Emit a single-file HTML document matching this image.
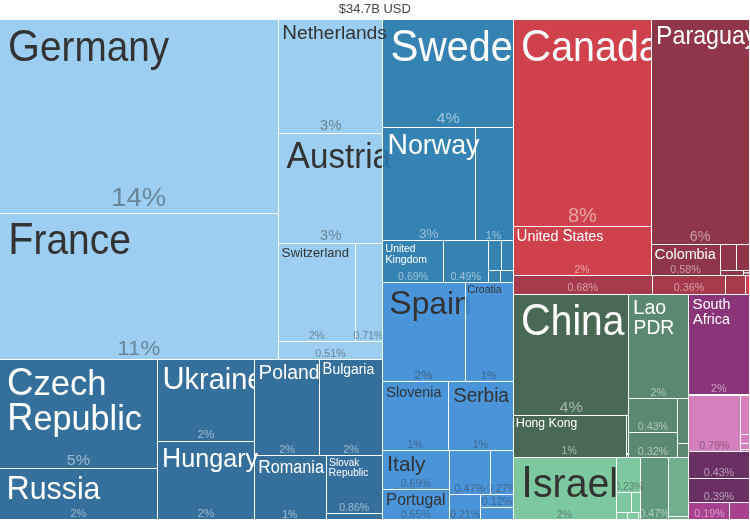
<!DOCTYPE html>
<html><head><meta charset="utf-8"><title>Treemap</title>
<style>
html,body{margin:0;padding:0;background:#fff;}
body{width:750px;height:520px;overflow:hidden;font-family:"Liberation Sans",sans-serif;}
svg{display:block;will-change:transform;}
text{font-family:"Liberation Sans",sans-serif;}
</style></head><body>
<svg width="750" height="520" viewBox="0 0 750 520">
<g opacity="0.999"><text transform="translate(338.87,12.7) scale(1.0366,1)" font-size="12.5" fill="#444444">$34.7B USD</text></g>
<defs><clipPath id="cp"><rect x="0" y="20" width="750" height="500"/></clipPath><clipPath id="c1"><rect x="278.5" y="133.5" width="103.5" height="110"/></clipPath><clipPath id="c2"><rect x="383" y="133.5" width="17" height="110"/></clipPath><clipPath id="c3"><rect x="157.5" y="359.5" width="96.5" height="82"/></clipPath><clipPath id="c4"><rect x="382.5" y="20" width="130.5" height="107.5"/></clipPath><clipPath id="c5"><rect x="382.5" y="282.5" width="82.5" height="99"/></clipPath><clipPath id="c6"><rect x="466" y="282.5" width="14" height="99"/></clipPath><clipPath id="c7"><rect x="513.5" y="20" width="137.5" height="206.5"/></clipPath><clipPath id="c8"><rect x="651.5" y="20" width="97.5" height="224.5"/></clipPath><clipPath id="c9"><rect x="270" y="243.5" width="112.5" height="98"/></clipPath><clipPath id="c10"><rect x="490.5" y="450" width="22.5" height="45"/></clipPath><clipPath id="c11"><rect x="480" y="450" width="10" height="45"/></clipPath><clipPath id="c12"><rect x="617" y="457" width="83" height="63"/></clipPath><clipPath id="c13"><rect x="640.5" y="457" width="27.8" height="63"/></clipPath></defs>
<g clip-path="url(#cp)">
<rect x="-1" y="19" width="279.5" height="194.5" fill="#9bcef0" stroke="#ffffff" stroke-width="1"/>
<rect x="-1" y="213.5" width="279.5" height="146" fill="#9bcef0" stroke="#ffffff" stroke-width="1"/>
<rect x="278.5" y="19" width="104" height="114.5" fill="#9bcef0" stroke="#ffffff" stroke-width="1"/>
<rect x="278.5" y="133.5" width="104" height="110" fill="#9bcef0" stroke="#ffffff" stroke-width="1"/>
<rect x="278.5" y="243.5" width="77" height="98" fill="#9bcef0" stroke="#ffffff" stroke-width="1"/>
<rect x="355.5" y="243.5" width="27" height="98" fill="#9bcef0" stroke="#ffffff" stroke-width="1"/>
<rect x="278.5" y="341.5" width="104" height="18" fill="#9bcef0" stroke="#ffffff" stroke-width="1"/>
<rect x="-1" y="359.5" width="158.5" height="109" fill="#35709c" stroke="#ffffff" stroke-width="1"/>
<rect x="-1" y="468.5" width="158.5" height="51" fill="#35709c" stroke="#ffffff" stroke-width="1"/>
<rect x="157.5" y="359.5" width="97" height="82" fill="#35709c" stroke="#ffffff" stroke-width="1"/>
<rect x="157.5" y="441.5" width="97" height="78" fill="#35709c" stroke="#ffffff" stroke-width="1"/>
<rect x="254.5" y="359.5" width="65" height="96" fill="#35709c" stroke="#ffffff" stroke-width="1"/>
<rect x="319.5" y="359.5" width="63" height="96" fill="#35709c" stroke="#ffffff" stroke-width="1"/>
<rect x="254.5" y="455.5" width="72" height="64" fill="#35709c" stroke="#ffffff" stroke-width="1"/>
<rect x="326.5" y="455.5" width="56" height="58" fill="#35709c" stroke="#ffffff" stroke-width="1"/>
<rect x="326.5" y="513.5" width="56" height="6" fill="#35709c" stroke="#ffffff" stroke-width="1"/>
<rect x="382.5" y="19" width="131" height="108.5" fill="#3583b2" stroke="#ffffff" stroke-width="1"/>
<rect x="382.5" y="127.5" width="93" height="113" fill="#3583b2" stroke="#ffffff" stroke-width="1"/>
<rect x="475.5" y="127.5" width="38" height="113" fill="#3583b2" stroke="#ffffff" stroke-width="1"/>
<rect x="382.5" y="240.5" width="61" height="42" fill="#3583b2" stroke="#ffffff" stroke-width="1"/>
<rect x="443.5" y="240.5" width="45" height="42" fill="#3583b2" stroke="#ffffff" stroke-width="1"/>
<rect x="488.5" y="240.5" width="13" height="30" fill="#3583b2" stroke="#ffffff" stroke-width="1"/>
<rect x="501.5" y="240.5" width="12" height="30" fill="#3583b2" stroke="#ffffff" stroke-width="1"/>
<rect x="488.5" y="270.5" width="12" height="12" fill="#3583b2" stroke="#ffffff" stroke-width="1"/>
<rect x="500.5" y="270.5" width="13" height="12" fill="#3583b2" stroke="#ffffff" stroke-width="1"/>
<rect x="382.5" y="282.5" width="83" height="99" fill="#4a95d9" stroke="#ffffff" stroke-width="1"/>
<rect x="465.5" y="282.5" width="48" height="99" fill="#4a95d9" stroke="#ffffff" stroke-width="1"/>
<rect x="382.5" y="381.5" width="66" height="69" fill="#4a95d9" stroke="#ffffff" stroke-width="1"/>
<rect x="448.5" y="381.5" width="65" height="69" fill="#4a95d9" stroke="#ffffff" stroke-width="1"/>
<rect x="382.5" y="450.5" width="67" height="39" fill="#4a95d9" stroke="#ffffff" stroke-width="1"/>
<rect x="382.5" y="489.5" width="67" height="30" fill="#4a95d9" stroke="#ffffff" stroke-width="1"/>
<rect x="449.5" y="450.5" width="41" height="44" fill="#4a95d9" stroke="#ffffff" stroke-width="1"/>
<rect x="490.5" y="450.5" width="23" height="44" fill="#4a95d9" stroke="#ffffff" stroke-width="1"/>
<rect x="449.5" y="494.5" width="31" height="25" fill="#4a95d9" stroke="#ffffff" stroke-width="1"/>
<rect x="480.5" y="494.5" width="33" height="13" fill="#4a95d9" stroke="#ffffff" stroke-width="1"/>
<rect x="480.5" y="507.5" width="33" height="12" fill="#4a95d9" stroke="#ffffff" stroke-width="1"/>
<rect x="513.5" y="19" width="138" height="207.5" fill="#cf424b" stroke="#ffffff" stroke-width="1"/>
<rect x="513.5" y="226.5" width="138" height="49" fill="#cf424b" stroke="#ffffff" stroke-width="1"/>
<rect x="513.5" y="275.5" width="139" height="19" fill="#a73a4a" stroke="#ffffff" stroke-width="1"/>
<rect x="652.5" y="275.5" width="73" height="19" fill="#a73a4a" stroke="#ffffff" stroke-width="1"/>
<rect x="725.5" y="275.5" width="20" height="19" fill="#a73a4a" stroke="#ffffff" stroke-width="1"/>
<rect x="745.5" y="275.5" width="4" height="19" fill="#cf424b" stroke="#ffffff" stroke-width="1"/>
<rect x="651.5" y="19" width="98" height="225.5" fill="#8f3648" stroke="#ffffff" stroke-width="1"/>
<rect x="651.5" y="244.5" width="69" height="31" fill="#8f3648" stroke="#ffffff" stroke-width="1"/>
<rect x="720.5" y="244.5" width="16" height="26" fill="#8f3648" stroke="#ffffff" stroke-width="1"/>
<rect x="736.5" y="244.5" width="13" height="26" fill="#8f3648" stroke="#ffffff" stroke-width="1"/>
<rect x="720.5" y="270.5" width="23" height="5" fill="#8f3648" stroke="#ffffff" stroke-width="1"/>
<rect x="743.5" y="270.5" width="6" height="2.5" fill="#8f3648" stroke="#ffffff" stroke-width="1"/>
<rect x="743.5" y="273" width="6" height="2.5" fill="#8f3648" stroke="#ffffff" stroke-width="1"/>
<rect x="513.5" y="294.5" width="115" height="121" fill="#4a6955" stroke="#ffffff" stroke-width="1"/>
<rect x="513.5" y="415.5" width="113" height="42" fill="#4a6955" stroke="#ffffff" stroke-width="1"/>
<rect x="626.5" y="415.5" width="2" height="38.5" fill="#4a6955" stroke="#ffffff" stroke-width="1"/>
<rect x="626.5" y="454" width="2" height="3.5" fill="#4a6955" stroke="#ffffff" stroke-width="1"/>
<rect x="628.5" y="294.5" width="60" height="104" fill="#5a8870" stroke="#ffffff" stroke-width="1"/>
<rect x="628.5" y="398.5" width="49" height="34" fill="#5a8870" stroke="#ffffff" stroke-width="1"/>
<rect x="628.5" y="432.5" width="49" height="25" fill="#5a8870" stroke="#ffffff" stroke-width="1"/>
<rect x="677.5" y="398.5" width="11" height="45" fill="#5a8870" stroke="#ffffff" stroke-width="1"/>
<rect x="677.5" y="443.5" width="11" height="14" fill="#5a8870" stroke="#ffffff" stroke-width="1"/>
<rect x="513.5" y="457.5" width="103" height="62" fill="#7ec8a0" stroke="#ffffff" stroke-width="1"/>
<rect x="616.5" y="457.5" width="24" height="35" fill="#7ec8a0" stroke="#ffffff" stroke-width="1"/>
<rect x="616.5" y="492.5" width="15" height="20" fill="#7ec8a0" stroke="#ffffff" stroke-width="1"/>
<rect x="631.5" y="492.5" width="9" height="20" fill="#7ec8a0" stroke="#ffffff" stroke-width="1"/>
<rect x="616.5" y="512.5" width="11" height="7" fill="#7ec8a0" stroke="#ffffff" stroke-width="1"/>
<rect x="627.5" y="512.5" width="11" height="7" fill="#7ec8a0" stroke="#ffffff" stroke-width="1"/>
<rect x="638.5" y="512.5" width="2" height="7" fill="#7ec8a0" stroke="#ffffff" stroke-width="1"/>
<rect x="640.5" y="457.5" width="28" height="62" fill="#609a7a" stroke="#ffffff" stroke-width="1"/>
<rect x="668.5" y="457.5" width="20" height="59" fill="#70ae8c" stroke="#ffffff" stroke-width="1"/>
<rect x="668.5" y="516.5" width="20" height="3" fill="#70ae8c" stroke="#ffffff" stroke-width="1"/>
<rect x="688.5" y="294.5" width="61" height="100" fill="#8a3579" stroke="#ffffff" stroke-width="1"/>
<rect x="688.5" y="395.5" width="52" height="56" fill="#d580bc" stroke="#ffffff" stroke-width="1"/>
<rect x="740.5" y="395.5" width="9" height="39" fill="#d580bc" stroke="#ffffff" stroke-width="1"/>
<rect x="740.5" y="434.5" width="9" height="9" fill="#d580bc" stroke="#ffffff" stroke-width="1"/>
<rect x="740.5" y="443.5" width="9" height="6" fill="#d580bc" stroke="#ffffff" stroke-width="1"/>
<rect x="740.5" y="449.5" width="9" height="2" fill="#d580bc" stroke="#ffffff" stroke-width="1"/>
<rect x="688.5" y="451.5" width="61" height="27" fill="#6a3064" stroke="#ffffff" stroke-width="1"/>
<rect x="688.5" y="478.5" width="61" height="24" fill="#6a3064" stroke="#ffffff" stroke-width="1"/>
<rect x="688.5" y="502.5" width="41" height="17" fill="#a8408f" stroke="#ffffff" stroke-width="1"/>
<rect x="729.5" y="502.5" width="20" height="17" fill="#a8408f" stroke="#ffffff" stroke-width="1"/>
<text transform="translate(7.96,60.60) scale(0.9234,1)" font-size="42" fill="#333333"><tspan font-size="44.52">G</tspan>ermany</text>
<text transform="translate(8.19,253.90) scale(0.9170,1)" font-size="42.5" fill="#333333"><tspan font-size="45.05">F</tspan>rance</text>
<text transform="translate(282.21,38.60) scale(1.0155,1)" font-size="19" fill="#333333"><tspan font-size="20.14">N</tspan>etherlands</text>
<g clip-path="url(#c1)"><text transform="translate(286.62,167.60) scale(0.9618,1)" font-size="34.4" fill="#333333"><tspan font-size="36.46">A</tspan>ustria</text></g>
<g clip-path="url(#c2)"><text transform="translate(286.62,167.60) scale(0.9618,1)" font-size="34.4" fill="#1f5f8f" fill-opacity="0.55"><tspan font-size="36.46">A</tspan>ustria</text></g>
<text transform="translate(281.59,256.60) scale(1.0245,1)" font-size="12.6" fill="#333333"><tspan font-size="13.36">S</tspan>witzerland</text>
<text transform="translate(6.98,394.80) scale(0.9667,1)" font-size="35.8" fill="#ffffff"><tspan font-size="37.95">C</tspan>zech</text>
<text transform="translate(7.20,429.80) scale(0.9564,1)" font-size="35.8" fill="#ffffff"><tspan font-size="37.95">R</tspan>epublic</text>
<text transform="translate(6.44,499.40) scale(0.9885,1)" font-size="30.7" fill="#ffffff"><tspan font-size="32.54">R</tspan>ussia</text>
<g clip-path="url(#c3)"><text transform="translate(162.41,389.10) scale(0.9523,1)" font-size="30.4" fill="#ffffff"><tspan font-size="32.22">U</tspan>kraine</text></g>
<text transform="translate(162.10,467.00) scale(0.9655,1)" font-size="26" fill="#ffffff"><tspan font-size="27.56">H</tspan>ungary</text>
<text transform="translate(258.61,378.90) scale(1.0026,1)" font-size="19.3" fill="#ffffff"><tspan font-size="20.46">P</tspan>oland</text>
<text transform="translate(322.58,374.00) scale(0.9153,1)" font-size="15.2" fill="#ffffff"><tspan font-size="16.11">B</tspan>ulgaria</text>
<text transform="translate(258.17,472.80) scale(0.9254,1)" font-size="17.6" fill="#ffffff"><tspan font-size="18.66">R</tspan>omania</text>
<text transform="translate(329.03,465.60) scale(0.9444,1)" font-size="10.5" fill="#ffffff"><tspan font-size="11.13">S</tspan>lovak</text>
<text transform="translate(328.62,475.80) scale(0.9599,1)" font-size="10.5" fill="#ffffff"><tspan font-size="11.13">R</tspan>epublic</text>
<g clip-path="url(#c4)"><text transform="translate(390.43,61.00) scale(0.9397,1)" font-size="42" fill="#ffffff"><tspan font-size="44.52">S</tspan>weden</text></g>
<text transform="translate(387.45,154.20) scale(0.9783,1)" font-size="27.4" fill="#ffffff"><tspan font-size="29.04">N</tspan>orway</text>
<text transform="translate(385.24,252.00) scale(0.9781,1)" font-size="10.6" fill="#ffffff"><tspan font-size="11.24">U</tspan>nited</text>
<text transform="translate(385.18,262.60) scale(0.9914,1)" font-size="10.6" fill="#ffffff"><tspan font-size="11.24">K</tspan>ingdom</text>
<g clip-path="url(#c5)"><text transform="translate(389.19,314.40) scale(1.0427,1)" font-size="30.5" fill="#333333"><tspan font-size="32.33">S</tspan>pain</text></g>
<g clip-path="url(#c6)"><text transform="translate(389.19,314.40) scale(1.0427,1)" font-size="30.5" fill="#2f78c0" fill-opacity="0.5"><tspan font-size="32.33">S</tspan>pain</text></g>
<text transform="translate(467.24,293.40) scale(0.9614,1)" font-size="11" fill="#333333"><tspan font-size="11.66">C</tspan>roatia</text>
<text transform="translate(386.02,397.00) scale(0.9850,1)" font-size="14.5" fill="#333333"><tspan font-size="15.37">S</tspan>lovenia</text>
<text transform="translate(453.20,401.60) scale(0.9759,1)" font-size="19.5" fill="#333333"><tspan font-size="20.67">S</tspan>erbia</text>
<text transform="translate(386.97,470.90) scale(1.0224,1)" font-size="20.4" fill="#333333"><tspan font-size="21.62">I</tspan>taly</text>
<text transform="translate(386.12,505.20) scale(1.0104,1)" font-size="15.6" fill="#333333"><tspan font-size="16.54">P</tspan>ortugal</text>
<g clip-path="url(#c7)"><text transform="translate(521.03,61.00) scale(0.9383,1)" font-size="42" fill="#ffffff"><tspan font-size="44.52">C</tspan>anada</text></g>
<text transform="translate(516.52,241.40) scale(0.9720,1)" font-size="14.7" fill="#ffffff"><tspan font-size="15.58">U</tspan>nited <tspan font-size="15.58">S</tspan>tates</text>
<g clip-path="url(#c8)"><text transform="translate(656.07,44.00) scale(0.9296,1)" font-size="25" fill="#ffffff"><tspan font-size="26.50">P</tspan>araguay</text></g>
<text transform="translate(654.44,259.40) scale(1.0280,1)" font-size="14" fill="#ffffff"><tspan font-size="14.84">C</tspan>olombia</text>
<text transform="translate(521.06,335.30) scale(0.9259,1)" font-size="42" fill="#ffffff"><tspan font-size="44.52">C</tspan>hina</text>
<text transform="translate(515.64,427.00) scale(1.0076,1)" font-size="12" fill="#ffffff"><tspan font-size="12.72">H</tspan>ong <tspan font-size="12.72">K</tspan>ong</text>
<text transform="translate(632.89,313.70) scale(1.0149,1)" font-size="19.3" fill="#ffffff"><tspan font-size="20.46">L</tspan>ao</text>
<text transform="translate(633.50,333.90) scale(0.9450,1)" font-size="19.3" fill="#ffffff"><tspan font-size="20.46">PDR</tspan></text>
<text transform="translate(521.37,497.40) scale(0.9576,1)" font-size="41" fill="#333333"><tspan font-size="43.46">I</tspan>srael</text>
<text transform="translate(692.52,309.10) scale(1.0226,1)" font-size="14" fill="#ffffff"><tspan font-size="14.84">S</tspan>outh</text>
<text transform="translate(692.66,324.10) scale(1.0239,1)" font-size="14" fill="#ffffff"><tspan font-size="14.84">A</tspan>frica</text>
<text transform="translate(111.14,206.20) scale(1.0568,1)" font-size="26" fill="#333333" fill-opacity="0.47">14%</text>
<text transform="translate(117.32,354.70) scale(1.1456,1)" font-size="19.5" fill="#333333" fill-opacity="0.47">11%</text>
<text transform="translate(319.84,130.00) scale(1.0141,1)" font-size="14.8" fill="#333333" fill-opacity="0.47">3%</text>
<text transform="translate(319.84,240.00) scale(1.0141,1)" font-size="14.8" fill="#333333" fill-opacity="0.47">3%</text>
<text transform="translate(308.76,338.60) scale(1.0565,1)" font-size="10.3" fill="#333333" fill-opacity="0.47">2%</text>
<g clip-path="url(#c9)"><text transform="translate(353.58,338.60) scale(1.0292,1)" font-size="10.2" fill="#333333" fill-opacity="0.47">0.71%</text></g>
<text transform="translate(315.27,356.50) scale(1.0505,1)" font-size="10.2" fill="#333333" fill-opacity="0.47">0.51%</text>
<text transform="translate(66.76,464.60) scale(1.0428,1)" font-size="15.4" fill="#ffffff" fill-opacity="0.5">5%</text>
<text transform="translate(70.45,517.40) scale(1.0708,1)" font-size="10.3" fill="#ffffff" fill-opacity="0.5">2%</text>
<text transform="translate(197.41,438.40) scale(1.0793,1)" font-size="10.9" fill="#ffffff" fill-opacity="0.5">2%</text>
<text transform="translate(197.41,517.40) scale(1.0793,1)" font-size="10.9" fill="#ffffff" fill-opacity="0.5">2%</text>
<text transform="translate(279.26,453.00) scale(1.0565,1)" font-size="10.3" fill="#ffffff" fill-opacity="0.5">2%</text>
<text transform="translate(343.26,453.00) scale(1.0565,1)" font-size="10.3" fill="#ffffff" fill-opacity="0.5">2%</text>
<text transform="translate(282.32,517.80) scale(1.0036,1)" font-size="10.3" fill="#ffffff" fill-opacity="0.5">1%</text>
<text transform="translate(339.23,510.70) scale(1.0398,1)" font-size="10.2" fill="#ffffff" fill-opacity="0.5">0.86%</text>
<text transform="translate(436.44,122.80) scale(1.0416,1)" font-size="15.5" fill="#ffffff" fill-opacity="0.5">4%</text>
<text transform="translate(418.89,238.20) scale(1.1018,1)" font-size="12.3" fill="#ffffff" fill-opacity="0.5">3%</text>
<text transform="translate(485.79,238.60) scale(1.0472,1)" font-size="10.3" fill="#ffffff" fill-opacity="0.5">1%</text>
<text transform="translate(397.97,280.20) scale(1.0505,1)" font-size="10.2" fill="#ffffff" fill-opacity="0.5">0.69%</text>
<text transform="translate(450.57,280.20) scale(1.0505,1)" font-size="10.2" fill="#ffffff" fill-opacity="0.5">0.49%</text>
<text transform="translate(414.26,379.00) scale(1.1125,1)" font-size="11.5" fill="#333333" fill-opacity="0.47">2%</text>
<text transform="translate(480.99,379.00) scale(1.0472,1)" font-size="10.3" fill="#333333" fill-opacity="0.47">1%</text>
<text transform="translate(407.61,447.60) scale(1.0181,1)" font-size="10.3" fill="#333333" fill-opacity="0.47">1%</text>
<text transform="translate(472.81,447.60) scale(1.0181,1)" font-size="10.3" fill="#333333" fill-opacity="0.47">1%</text>
<text transform="translate(400.67,486.70) scale(1.0505,1)" font-size="10.2" fill="#333333" fill-opacity="0.47">0.69%</text>
<text transform="translate(400.67,517.90) scale(1.0505,1)" font-size="10.2" fill="#333333" fill-opacity="0.47">0.55%</text>
<text transform="translate(454.57,491.70) scale(1.0505,1)" font-size="10.2" fill="#333333" fill-opacity="0.47">0.47%</text>
<g clip-path="url(#c10)"><text transform="translate(486.77,491.70) scale(1.0505,1)" font-size="10.2" fill="#333333" fill-opacity="0.47">0.27%</text></g>
<g clip-path="url(#c11)"><text transform="translate(486.77,491.70) scale(1.0505,1)" font-size="10.2" fill="#333333" fill-opacity="0.2">0.27%</text></g>
<text transform="translate(449.97,517.90) scale(1.0505,1)" font-size="10.2" fill="#333333" fill-opacity="0.47">0.21%</text>
<text transform="translate(481.87,505.00) scale(1.0505,1)" font-size="10.2" fill="#333333" fill-opacity="0.47">0.12%</text>
<text transform="translate(567.95,221.80) scale(1.0018,1)" font-size="20" fill="#ffffff" fill-opacity="0.5">8%</text>
<text transform="translate(574.49,273.20) scale(0.9994,1)" font-size="10.3" fill="#ffffff" fill-opacity="0.5">2%</text>
<text transform="translate(567.57,291.40) scale(1.0505,1)" font-size="10.2" fill="#ffffff" fill-opacity="0.5">0.68%</text>
<text transform="translate(673.87,290.90) scale(1.0505,1)" font-size="10.2" fill="#ffffff" fill-opacity="0.5">0.36%</text>
<text transform="translate(689.73,240.80) scale(0.9559,1)" font-size="15" fill="#ffffff" fill-opacity="0.5">6%</text>
<text transform="translate(670.37,272.80) scale(1.0505,1)" font-size="10.2" fill="#ffffff" fill-opacity="0.5">0.58%</text>
<text transform="translate(559.44,411.50) scale(1.0416,1)" font-size="15.5" fill="#ffffff" fill-opacity="0.5">4%</text>
<text transform="translate(561.61,454.40) scale(1.0181,1)" font-size="10.3" fill="#ffffff" fill-opacity="0.5">1%</text>
<text transform="translate(650.56,396.00) scale(1.0565,1)" font-size="10.3" fill="#ffffff" fill-opacity="0.5">2%</text>
<text transform="translate(637.77,429.50) scale(1.0505,1)" font-size="10.2" fill="#ffffff" fill-opacity="0.5">0.43%</text>
<text transform="translate(637.77,454.50) scale(1.0505,1)" font-size="10.2" fill="#ffffff" fill-opacity="0.5">0.32%</text>
<text transform="translate(556.46,517.50) scale(1.0565,1)" font-size="10.3" fill="#333333" fill-opacity="0.47">2%</text>
<g clip-path="url(#c12)"><text transform="translate(614.59,489.60) scale(0.9937,1)" font-size="10.2" fill="#333333" fill-opacity="0.47">0.23%</text></g>
<g clip-path="url(#c13)"><text transform="translate(639.27,517.00) scale(1.0505,1)" font-size="10.2" fill="#ffffff" fill-opacity="0.5">0.47%</text></g>
<text transform="translate(711.06,391.50) scale(1.0565,1)" font-size="10.3" fill="#ffffff" fill-opacity="0.5">2%</text>
<text transform="translate(699.27,448.50) scale(1.0505,1)" font-size="10.2" fill="#333333" fill-opacity="0.47">0.79%</text>
<text transform="translate(703.77,475.60) scale(1.0505,1)" font-size="10.2" fill="#ffffff" fill-opacity="0.5">0.43%</text>
<text transform="translate(703.77,499.50) scale(1.0505,1)" font-size="10.2" fill="#ffffff" fill-opacity="0.5">0.39%</text>
<text transform="translate(694.37,517.00) scale(1.0505,1)" font-size="10.2" fill="#ffffff" fill-opacity="0.5">0.19%</text>
</g>
</svg>
</body></html>
